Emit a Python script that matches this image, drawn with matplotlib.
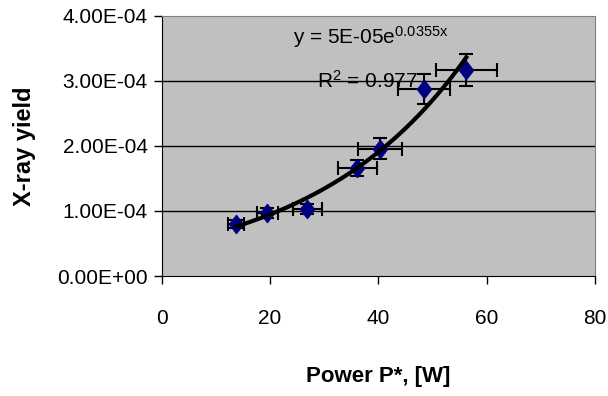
import matplotlib.pyplot as plt
import numpy as np
from matplotlib.ticker import FuncFormatter
from matplotlib.path import Path

plt.rcParams['font.family'] = ['Liberation Sans', 'DejaVu Sans']
plt.rcParams['mathtext.fontset'] = 'custom'
plt.rcParams['mathtext.rm'] = 'Liberation Sans'
plt.rcParams['mathtext.it'] = 'Liberation Sans'

# measured points
power = np.array([13.7, 19.5, 26.9, 36.1, 40.3, 48.4, 56.2])
yield_x = np.array([0.80e-4, 0.965e-4, 1.03e-4, 1.66e-4, 1.96e-4, 2.87e-4, 3.17e-4])
xerr = np.array([1.4, 1.95, 2.7, 3.6, 4.0, 4.8, 5.6])
yerr = np.array([0.06e-4, 0.08e-4, 0.08e-4, 0.13e-4, 0.16e-4, 0.23e-4, 0.25e-4])

xticks = [0, 20, 40, 60, 80]
yticks = [0, 1e-4, 2e-4, 3e-4, 4e-4]

fig = plt.figure(figsize=(6.08, 3.96), dpi=100)
ax = fig.add_axes([0.266, 0.303, 0.713, 0.657])
ax.set_facecolor('#c0c0c0')

# horizontal grid
for yt in yticks[1:-1]:
    ax.axhline(yt, color='black', lw=1, zorder=1)

ax.errorbar(power, yield_x, xerr=xerr, yerr=yerr, fmt='none', ecolor='black',
            elinewidth=1.5, capsize=5, capthick=1.5, zorder=2)
diamond = Path([(0, 1), (0.78, 0), (0, -1), (-0.78, 0), (0, 1)],
               [Path.MOVETO, Path.LINETO, Path.LINETO, Path.LINETO, Path.CLOSEPOLY])
ax.plot(power, yield_x, linestyle='none', marker=diamond, color='#000080',
        markersize=13, zorder=3)

# exponential trendline fitted from the data
b, ln_a = np.polyfit(power, np.log(yield_x), 1)
xf = np.linspace(power.min(), power.max(), 100)
ax.plot(xf, np.exp(ln_a) * np.exp(b * xf), color='black', lw=3, zorder=4)

ax.text(38.5, 3.68e-4, r'y = 5E-05e$^{\mathrm{0.0355x}}$', fontsize=15, ha='center', va='center')
ax.text(38, 3.0e-4, r'R$^{\mathrm{2}}$ = 0.977', fontsize=15, ha='center', va='center')

ax.set_xlim(0, 80)
ax.set_ylim(0, 4e-4)
ax.set_xticks(xticks)
ax.set_yticks(yticks)
ax.yaxis.set_major_formatter(FuncFormatter(lambda v, p: '%.2E' % v))
ax.tick_params(axis='both', direction='out', length=6, width=1, labelsize=15, color='black')
ax.tick_params(axis='x', pad=18)
ax.tick_params(axis='y', pad=4)

for s in ['top', 'right']:
    ax.spines[s].set_color('#808080')
for s in ['left', 'bottom']:
    ax.spines[s].set_color('black')

ax.set_xlabel('Power P*, [W]', fontsize=16, fontweight='bold', labelpad=27)
ax.set_ylabel('X-ray yield', fontsize=17, fontweight='bold', labelpad=15)

fig.savefig('out.png', dpi=100)
